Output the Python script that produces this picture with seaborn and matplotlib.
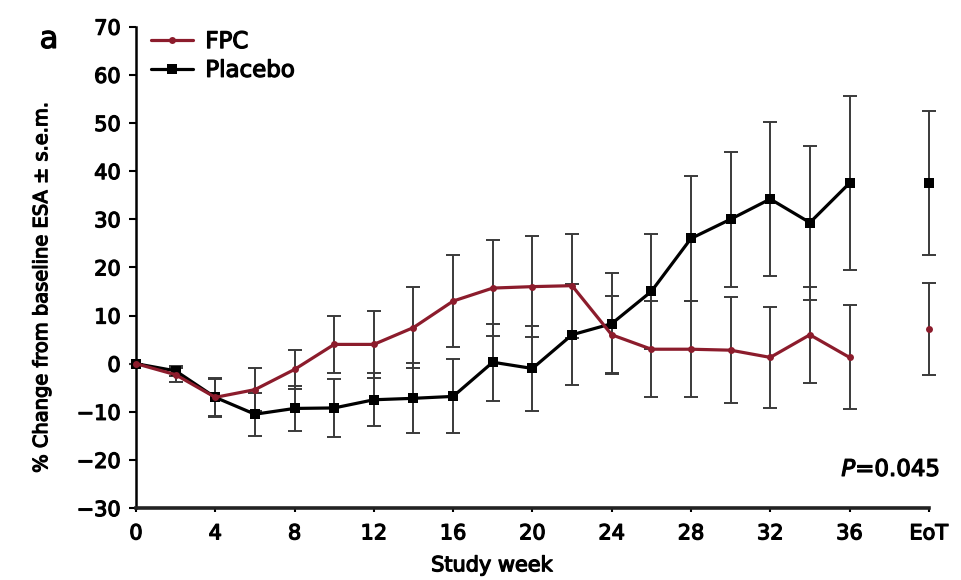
import numpy as np
import pandas as pd
import matplotlib
matplotlib.use("Agg")
import matplotlib.pyplot as plt
import matplotlib.patheffects as pe
import seaborn as sns

weeks = [0, 2, 4, 6, 8, 10, 12, 14, 16, 18, 20, 22, 24, 26, 28, 30, 32, 34, 36]
eot_pos = 40

fpc_mean = [0, -2.3, -7, -5.4, -1.2, 4, 4, 7.5, 13, 15.7, 16, 16.2, 6, 3, 3, 2.8, 1.3, 6, 1.3]
fpc_sem = [0, 1.5, 3.8, 4.5, 4, 6, 7, 8.5, 9.5, 10, 10.5, 10.8, 8, 10, 10, 11, 10.5, 10, 10.8]
fpc_eot_mean = 7.2
fpc_eot_sem = 9.5

pbo_mean = [0, -1.5, -7, -10.5, -9.3, -9.2, -7.5, -7.2, -6.8, 0.3, -1, 6, 8.3, 15, 26, 30, 34.2, 29.3, 37.5]
pbo_sem = [0, 1, 4, 4.5, 4.7, 6, 5.5, 7.3, 7.7, 8, 8.8, 10.5, 10.5, 12, 13, 14, 16, 16, 18]
pbo_eot_mean = 37.5
pbo_eot_sem = 15

xtick_pos = [0, 4, 8, 12, 16, 20, 24, 28, 32, 36, 40]
xtick_labels = ["0", "4", "8", "12", "16", "20", "24", "28", "32", "36", "EoT"]
yticks = list(range(-30, 71, 10))

sns.set_theme(style="ticks")
plt.rcParams["font.family"] = ["DejaVu Sans"]
plt.rcParams["mathtext.default"] = "regular"
plt.rcParams["text.color"] = "black"
plt.rcParams["xtick.color"] = "black"
plt.rcParams["ytick.color"] = "black"
plt.rcParams["axes.labelcolor"] = "black"

fpc_color = "#8c1c2c"
pbo_color = "#000000"
err_color = "#3a3a3a"
fs = 15
heavy = [pe.withStroke(linewidth=0.9, foreground="black")]

fig = plt.figure(figsize=(9.61, 5.8), dpi=100)
ax = fig.add_axes([0.1415, 0.124, 0.825, 0.83])

df = pd.concat([
    pd.DataFrame({"week": weeks, "mean": fpc_mean, "sem": fpc_sem, "group": "FPC"}),
    pd.DataFrame({"week": weeks, "mean": pbo_mean, "sem": pbo_sem, "group": "Placebo"}),
])
eot = pd.DataFrame({"week": [eot_pos, eot_pos], "mean": [fpc_eot_mean, pbo_eot_mean],
                    "sem": [fpc_eot_sem, pbo_eot_sem], "group": ["FPC", "Placebo"]})

# error bars first so the lines sit on top
for g in ["Placebo", "FPC"]:
    sub = pd.concat([df[df.group == g], eot[eot.group == g]])
    ax.errorbar(sub["week"], sub["mean"], yerr=sub["sem"], fmt="none",
                ecolor=err_color, elinewidth=1.4, capsize=5, capthick=1.4,
                zorder=2, clip_on=False)

palette = {"FPC": fpc_color, "Placebo": pbo_color}
markers = {"FPC": "o", "Placebo": "s"}
sizes = {"FPC": 5, "Placebo": 7}
for g in ["Placebo", "FPC"]:
    sub = df[df.group == g]
    sns.lineplot(data=sub, x="week", y="mean", color=palette[g], marker=markers[g],
                 markersize=sizes[g], markeredgewidth=0, linewidth=2.3,
                 ax=ax, label=g, zorder=3, clip_on=False)
    e = eot[eot.group == g]
    sns.scatterplot(data=e, x="week", y="mean", color=palette[g], marker=markers[g],
                    s=sizes[g] ** 2, linewidth=0, ax=ax, zorder=3, clip_on=False,
                    legend=False)

ax.set_xlim(0, 40)
ax.set_ylim(-30, 70)
ax.set_xticks(xtick_pos)
ax.set_xticklabels(xtick_labels)
ax.set_yticks(yticks)
ax.tick_params(axis="y", labelsize=fs, length=5, width=1.5, pad=6)
ax.tick_params(axis="x", labelsize=fs, length=3, width=1.5, pad=8)
for s in ["top", "right"]:
    ax.spines[s].set_visible(False)
ax.spines["left"].set_linewidth(1.8)
ax.spines["bottom"].set_linewidth(2.6)
ax.spines["bottom"].set_color("#222222")
ax.spines["left"].set_color("black")

ax.set_xlabel("Study week", fontsize=fs)
ax.set_ylabel("% Change from baseline ESA \u00b1 s.e.m.", fontsize=14)
ax.xaxis.set_label_coords(0.449, -0.098)
ax.yaxis.set_label_coords(-0.107, 0.46)

handles, labels = ax.get_legend_handles_labels()
handles = [handles[labels.index("FPC")], handles[labels.index("Placebo")]]
leg = ax.legend(handles, ["FPC", "Placebo"], loc="upper left", bbox_to_anchor=(0.008, 1.012),
                frameon=False, handlelength=1.8, handletextpad=0.55,
                labelspacing=0.25, borderaxespad=0, prop={"size": 16.5})

p_txt = ax.text(1.014, 0.08, "$\\it{P}$=0.045", transform=ax.transAxes, ha="right",
                va="center", fontsize=16.5)
a_txt = fig.text(0.051, 0.932, "a", fontsize=22, ha="center", va="center")

for t in (ax.get_xticklabels() + ax.get_yticklabels() + leg.get_texts()
          + [ax.xaxis.label, ax.yaxis.label, p_txt, a_txt]):
    t.set_path_effects(heavy)

fig.savefig("out.png", dpi=100)
